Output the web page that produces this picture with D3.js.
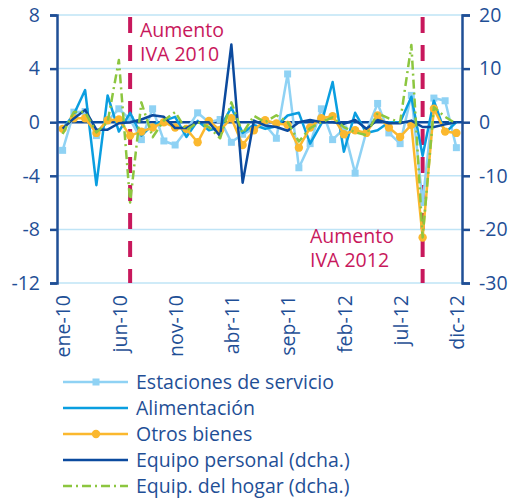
<!DOCTYPE html>
<html>
<head>
<meta charset="utf-8">
<script src="https://cdn.jsdelivr.net/npm/d3@7"></script>
<style>
  body { margin: 0; background: #fff; }
  svg { font-family: "Open Sans", sans-serif; }
</style>
</head>
<body>
<svg id="chart" width="511" height="501"></svg>
<script>
// Monthly series, ene-10 .. dic-12
var months = ["ene-10","feb-10","mar-10","abr-10","may-10","jun-10","jul-10","ago-10","sep-10","oct-10","nov-10","dic-10",
              "ene-11","feb-11","mar-11","abr-11","may-11","jun-11","jul-11","ago-11","sep-11","oct-11","nov-11","dic-11",
              "ene-12","feb-12","mar-12","abr-12","may-12","jun-12","jul-12","ago-12","sep-12","oct-12","nov-12","dic-12"];
var tickMonths = ["ene-10","jun-10","nov-10","abr-11","sep-11","feb-12","jul-12","dic-12"];
var leftTicks = [8, 4, 0, -4, -8, -12];
var rightTicks = [20, 10, 0, -10, -20, -30];

var estaciones = [-2.1, 0.75, 0.8, -1.0, 0.1, 1.0, 0.2, -1.3, 1.0, -1.4, -1.7, -0.6,
                  0.7, 0, 0.2, -1.5, -0.9, -0.5, -0.2, -1.2, 3.6, -3.4, -1.6, 1.0,
                  -1.3, -0.5, -3.8, -0.7, 1.4, -0.8, -1.6, 2.0, -6.0, 1.8, 1.6, -1.9];
var alimentacion = [-0.5, 0.6, 2.4, -4.7, 2.0, -0.7, 0.7, -1.0, -0.2, 0.1, 0.4, -1.1,
                    0.1, -0.6, -0.4, 1.1, -0.8, -0.2, -0.5, -0.3, 0.5, 0.7, -1.6, -0.1,
                    3.0, -2.2, 0.7, -0.8, -0.6, 0, 0, 1.9, -2.5, 1.6, -0.8, 0];
var otros = [-0.5, 0.3, 0.3, -0.8, 0.15, 0.2, -1.0, -0.7, -0.4, 0, -0.4, -0.5,
             -1.5, 0.1, -0.6, 0.3, -1.7, -0.6, 0.15, -0.1, -0.2, -1.9, -0.4, 0.3,
             0.45, -0.9, -0.6, -0.8, 0.5, -0.4, -1.1, -0.2, -8.6, 1.0, -0.7, -0.8];
// right axis (dcha.)
var equipoPersonal = [-1.2, 0.7, 2.3, -1.4, -1.4, -0.2, 0, 0.5, 1.3, 1.0, -1.1, -1.1,
                      0, 0, -2.6, 14.5, -11.3, 0.3, -0.6, -0.9, -1.6, 0, 0.4, 0,
                      0, -0.3, 0.4, -1.2, 0.4, -0.2, -0.2, 0.3, -0.9, -0.9, -0.4, 0];
var equipHogar = [-2.2, 1.9, 1.9, -1.9, 0, 11.6, -15.0, 3.7, -2.8, 0.3, 1.9, -1.5,
                  0, -0.9, -3.0, 3.7, -2.1, 1.2, 0, 1.3, 0, -3.6, -1.1, 0,
                  0.9, -0.9, -1.9, -2.4, 1.7, 0.7, 0, 14.4, -21.5, 2.8, 1.0, -0.3];

var ivaMonths = ["jul-10", "sep-12"];

var textColor = "#1f4f96";
var fontSize = "19.5px";
var svg = d3.select("#chart");

// plot box (note: "top" is taken by window.top, so use other names)
var plotLeft = 57, plotRight = 462, plotTop = 15, plotBottom = 283;

var x = d3.scaleBand().domain(months).range([plotLeft, plotRight]);
var yL = d3.scaleLinear().domain([-12, 8]).range([plotBottom, plotTop]);
var yR = d3.scaleLinear().domain([-30, 20]).range([plotBottom, plotTop]);
function cx(m) { return x(m) + x.bandwidth() / 2; }

// Gridlines
svg.append("g").selectAll("line").data(leftTicks).enter().append("line")
    .attr("x1", plotLeft).attr("x2", plotRight)
    .attr("y1", function (d) { return yL(d); }).attr("y2", function (d) { return yL(d); })
    .attr("stroke", "#bfe4f6").attr("stroke-width", 1.5);

// IVA lines, behind the series
svg.append("g").selectAll("line").data(ivaMonths).enter().append("line")
    .attr("x1", cx).attr("x2", cx)
    .attr("y1", plotTop + 2).attr("y2", plotBottom)
    .attr("stroke", "#c8185c").attr("stroke-width", 4)
    .attr("stroke-dasharray", "16,12");

// Zero line
svg.append("line")
    .attr("x1", plotLeft).attr("x2", plotRight)
    .attr("y1", yL(0)).attr("y2", yL(0))
    .attr("stroke", "#0b4a9e").attr("stroke-width", 2.5);

var series = [
    { name: "Estaciones de servicio", values: estaciones, y: yL, color: "#8fd2f4", marker: "square" },
    { name: "Alimentación", values: alimentacion, y: yL, color: "#0a9ee0" },
    { name: "Otros bienes", values: otros, y: yL, color: "#fbb82e", marker: "circle" },
    { name: "Equipo personal (dcha.)", values: equipoPersonal, y: yR, color: "#0b4a9e" },
    { name: "Equip. del hogar (dcha.)", values: equipHogar, y: yR, color: "#8cc63f", dash: "9,4,2,4" }
];

series.forEach(function (s) {
    var line = d3.line()
        .x(function (d, i) { return cx(months[i]); })
        .y(function (d) { return s.y(d); });
    var g = svg.append("g");
    g.append("path")
        .attr("d", line(s.values))
        .attr("fill", "none")
        .attr("stroke", s.color)
        .attr("stroke-width", 2.5)
        .attr("stroke-linejoin", "round")
        .attr("stroke-dasharray", s.dash || null);
    if (s.marker === "square") {
        g.selectAll("rect").data(s.values).enter().append("rect")
            .attr("x", function (d, i) { return cx(months[i]) - 3.5; })
            .attr("y", function (d) { return s.y(d) - 3.5; })
            .attr("width", 7).attr("height", 7)
            .attr("fill", s.color);
    } else if (s.marker === "circle") {
        g.selectAll("circle").data(s.values).enter().append("circle")
            .attr("cx", function (d, i) { return cx(months[i]); })
            .attr("cy", function (d) { return s.y(d); })
            .attr("r", 4.2)
            .attr("fill", s.color);
    }
});

// Axes (plain hyphen for negatives, like the original)
var plain = function (d) { return String(d); };
var axisL = svg.append("g").attr("transform", "translate(" + plotLeft + ",0)")
    .call(d3.axisLeft(yL).tickValues(leftTicks).tickFormat(plain).tickSize(7).tickPadding(10));
var axisR = svg.append("g").attr("transform", "translate(" + plotRight + ",0)")
    .call(d3.axisRight(yR).tickValues(rightTicks).tickFormat(plain).tickSize(8).tickPadding(9));
[axisL, axisR].forEach(function (a) {
    a.select(".domain").attr("stroke", textColor).attr("stroke-width", 2.5);
    a.selectAll(".tick line").attr("stroke", textColor).attr("stroke-width", 2.5);
    a.selectAll(".tick text").attr("fill", textColor)
        .style("font-size", fontSize).style("font-family", "'Open Sans', sans-serif");
});

// Month labels
svg.append("g").selectAll("text").data(tickMonths).enter().append("text")
    .attr("transform", function (d) { return "translate(" + (cx(d) + 1) + "," + (plotBottom + 12) + ") rotate(-90)"; })
    .attr("text-anchor", "end")
    .attr("dy", "0.35em")
    .attr("fill", textColor)
    .style("font-size", fontSize)
    .text(function (d) { return d; });

// Annotations
var notes = [
    { lines: ["Aumento", "IVA 2010"], x: 140, y: 37 },
    { lines: ["Aumento", "IVA 2012"], x: 310, y: 243 }
];
notes.forEach(function (n) {
    var t = svg.append("text").attr("fill", "#c8185c").style("font-size", fontSize);
    n.lines.forEach(function (l, i) {
        t.append("tspan").attr("x", n.x).attr("y", n.y + i * 24).text(l);
    });
});

// Legend
var legend = svg.append("g");
series.forEach(function (s, i) {
    var ly = 382 + i * 26;
    legend.append("line")
        .attr("x1", 63).attr("x2", 128).attr("y1", ly).attr("y2", ly)
        .attr("stroke", s.color).attr("stroke-width", 2.5)
        .attr("stroke-dasharray", s.dash || null);
    if (s.marker === "square") {
        legend.append("rect").attr("x", 92.5).attr("y", ly - 3.5).attr("width", 7).attr("height", 7).attr("fill", s.color);
    } else if (s.marker === "circle") {
        legend.append("circle").attr("cx", 96).attr("cy", ly).attr("r", 4.2).attr("fill", s.color);
    }
    legend.append("text")
        .attr("x", 136).attr("y", ly).attr("dy", "0.35em")
        .attr("fill", textColor)
        .style("font-size", fontSize)
        .text(s.name);
});
</script>
</body>
</html>
